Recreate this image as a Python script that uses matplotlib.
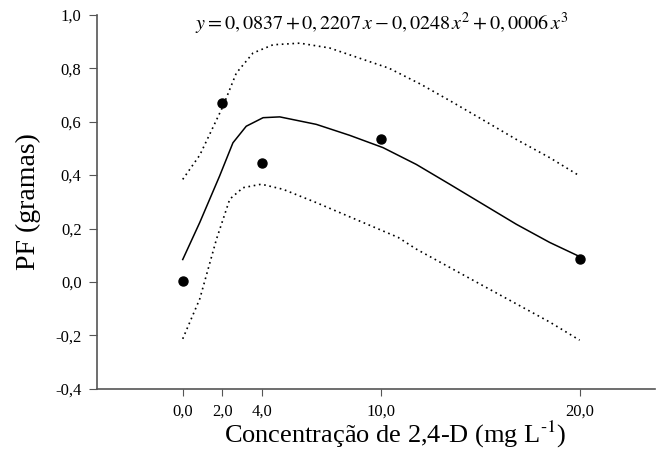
import numpy as np
import matplotlib
matplotlib.use("Agg")
import matplotlib.pyplot as plt

plt.rcParams['font.family'] = ['Liberation Serif', 'DejaVu Serif']
plt.rcParams['mathtext.fontset'] = 'stix'

# observed means
conc = [0.0, 2.0, 4.0, 10.0, 20.0]
pf = [0.005, 0.67, 0.447, 0.534, 0.086]

# fitted regression line
fit_x = [0.0, 0.86, 1.86, 2.53, 3.2, 4.05, 4.89, 6.73, 8.41, 10.09, 11.77, 13.45, 15.13, 16.81, 18.49, 20.0]
fit_y = [0.084, 0.223, 0.397, 0.521, 0.583, 0.615, 0.618, 0.59, 0.549, 0.503, 0.44, 0.366, 0.291, 0.216, 0.148, 0.095]

# confidence limits
up_x = [0.0, 0.86, 2.03, 2.7, 3.54, 4.55, 5.9, 7.4, 10.4, 12.0, 13.5, 15.1, 16.8, 18.5, 20.0]
up_y = [0.384, 0.475, 0.658, 0.782, 0.857, 0.888, 0.894, 0.876, 0.80, 0.74, 0.677, 0.608, 0.534, 0.465, 0.397]
lo_x = [0.0, 0.86, 1.7, 2.37, 3.04, 3.96, 5.05, 6.73, 8.41, 10.85, 11.77, 15.13, 18.49, 20.0]
lo_y = [-0.213, -0.063, 0.16, 0.31, 0.353, 0.366, 0.347, 0.297, 0.244, 0.167, 0.123, -0.014, -0.15, -0.218]

xticks = [0, 2, 4, 10, 20]
xticklabels = ['0,0', '2,0', '4,0', '10,0', '20,0']
yticks = [-0.4, -0.2, 0.0, 0.2, 0.4, 0.6, 0.8, 1.0]
yticklabels = ['-0,4', '-0,2', '0,0', '0,2', '0,4', '0,6', '0,8', '1,0']

fig = plt.figure(figsize=(6.63, 4.5), dpi=100)
ax = fig.add_axes([0.146, 0.136, 0.842, 0.831])

ax.plot(fit_x, fit_y, color='black', lw=1.1)
ax.plot(up_x, up_y, color='black', lw=1.2, ls=(0, (1, 2.2)))
ax.plot(lo_x, lo_y, color='black', lw=1.2, ls=(0, (1, 2.2)))
ax.plot(conc, pf, 'o', color='black', ms=6.5)

ax.set_xlim(-4.33, 23.8)
ax.set_ylim(-0.4, 1.0)
ax.set_xticks(xticks)
ax.set_xticklabels(xticklabels, fontsize=12)
ax.set_yticks(yticks)
ax.set_yticklabels(yticklabels, fontsize=12)
ax.tick_params(axis='x', direction='out', length=5, pad=6, color='#555555')
ax.tick_params(axis='y', direction='out', length=6, pad=5, color='#555555')

for s in ['top', 'right']:
    ax.spines[s].set_visible(False)
for s in ['left', 'bottom']:
    ax.spines[s].set_color('#555555')
    ax.spines[s].set_linewidth(1.2)

ax.set_xlabel(r'Concentração de 2,4-D (mg L$^{\text{-}1}$)', fontsize=19, va='baseline')
ax.xaxis.set_label_coords(0.534, -0.144)
ax.set_ylabel('PF (gramas)', fontsize=20, labelpad=10)

ax.text(0.5 * (-4.33 + 23.8) + 0.3, 0.965,
        r'$y = 0,0837 + 0,2207\,x - 0,0248\,x^2 + 0,0006\,x^3$',
        fontsize=14.5, ha='center', va='center')

fig.savefig('out.png', dpi=100)
